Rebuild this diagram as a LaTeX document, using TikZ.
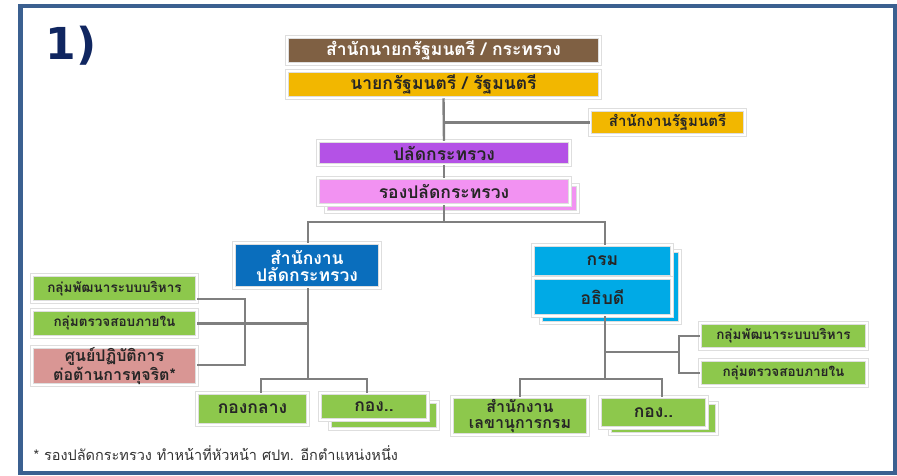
\documentclass[tikz,border=0pt]{standalone}
\usepackage{fontspec}
\newfontfamily\thaifont[Script=Thai]{Loma}
\newfontfamily\numfont{DejaVu Sans}
\usetikzlibrary{positioning,shadows}

\definecolor{frameblue}{HTML}{3B6090}
\definecolor{navy}{HTML}{102660}
\definecolor{linegray}{HTML}{7F7F7F}
\definecolor{pmobrown}{HTML}{7F6043}
\definecolor{pmgold}{HTML}{F2B700}
\definecolor{permpurple}{HTML}{B452E6}
\definecolor{deppink}{HTML}{F292F2}
\definecolor{opsblue}{HTML}{0A6EBD}
\definecolor{deptcyan}{HTML}{00AAE6}
\definecolor{unitgreen}{HTML}{8DC84C}
\definecolor{antired}{HTML}{D99694}
\definecolor{paleyellow}{HTML}{EEF29A}

\begin{document}
\begin{tikzpicture}[x=1pt,y=-1pt,font=\thaifont\bfseries\fontsize{17.5}{17}\selectfont,
  box/.style={draw=black!13,double=white,double distance=2.2pt,line width=0.5pt,
    inner sep=0pt,align=center,text=black!85,
    drop shadow={shadow xshift=1.4pt,shadow yshift=-1.4pt,opacity=0.2},
    path picture={\fill [black,opacity=0.2]
      ([yshift=2.5pt]path picture bounding box.south west) rectangle (path picture bounding box.south east);
      \fill [black,opacity=0.12]
      ([xshift=-2.5pt]path picture bounding box.north east) rectangle (path picture bounding box.south east);}},
  backbox/.style={box},
  staffbox/.style={box,fill=unitgreen,font=\thaifont\bfseries\fontsize{13.5}{14}\selectfont,
    append after command={\pgfextra{\draw [paleyellow,line width=2pt]
      ([xshift=1pt]\tikzlastnode.south west) -- ([xshift=1pt]\tikzlastnode.north west);}}},
  conn/.style={draw=linegray,line width=2.4pt}]

  \useasboundingbox (0,0) rectangle (897,475);
  \draw [frameblue,line width=4.5pt] (20.5,6) rectangle (895,473);
  \node [anchor=west,text=navy,font=\numfont\bfseries\fontsize{44}{48}\selectfont] (num) at (42,46) {1)};

  % top of the chart
  \node [box,fill=pmobrown,text=white,minimum width=313,minimum height=27] (pmo) at (443.5,50.5) {สำนักนายกรัฐมนตรี / กระทรวง};
  \node [box,fill=pmgold,minimum width=313,minimum height=27] (pm) at (443.5,84.5) {นายกรัฐมนตรี / รัฐมนตรี};
  \node [box,fill=pmgold,minimum width=155,minimum height=25,font=\thaifont\bfseries\fontsize{15}{15}\selectfont] (pmoff) at (667.5,122.5) {สำนักงานรัฐมนตรี};
  \node [box,fill=permpurple,minimum width=252,minimum height=24] (perm) at (444,153) {ปลัดกระทรวง};
  \node [backbox,fill=deppink,minimum width=252,minimum height=27] (deputyback) at (452,198.5) {};
  \node [box,fill=deppink,minimum width=252,minimum height=27] (deputy) at (444,191.5) {รองปลัดกระทรวง};

  % left branch
  \node [box,fill=opsblue,text=white,minimum width=146,minimum height=45] (ops) at (307,265.5) {สำนักงาน\\ปลัดกระทรวง};
  \node [staffbox,minimum width=165,minimum height=27] (ldev) at (114.5,288.5) {กลุ่มพัฒนาระบบบริหาร};
  \node [staffbox,minimum width=165,minimum height=27] (laud) at (114.5,323.5) {กลุ่มตรวจสอบภายใน};
  \node [box,fill=antired,minimum width=165,minimum height=38,font=\thaifont\bfseries\fontsize{16}{16}\selectfont] (anti) at (114.5,366) {ศูนย์ปฏิบัติการ\\ต่อต้านการทุจริต*};
  \node [box,fill=unitgreen,minimum width=111,minimum height=32] (kongklang) at (252.5,409) {กองกลาง};
  \node [backbox,fill=unitgreen,minimum width=108,minimum height=27] (kong1back) at (384,415.5) {};
  \node [box,fill=unitgreen,minimum width=108,minimum height=27] (kong1) at (374,406.5) {กอง..};

  % right branch
  \node [backbox,fill=deptcyan,minimum width=139,minimum height=72] (deptback) at (610.5,287) {};
  \node [box,fill=deptcyan,minimum width=139,minimum height=32] (dept) at (602.5,261) {กรม};
  \node [box,fill=deptcyan,minimum width=139,minimum height=38] (chief) at (602.5,297) {อธิบดี};
  \node [staffbox,minimum width=167,minimum height=26] (rdev) at (783.5,336) {กลุ่มพัฒนาระบบบริหาร};
  \node [staffbox,minimum width=167,minimum height=26] (raud) at (783.5,373) {กลุ่มตรวจสอบภายใน};
  \node [box,fill=unitgreen,minimum width=136,minimum height=38,font=\thaifont\bfseries\fontsize{16}{16}\selectfont] (secr) at (520,416) {สำนักงาน\\เลขานุการกรม};
  \node [backbox,fill=unitgreen,minimum width=107,minimum height=31] (kong2back) at (663.5,418.5) {};
  \node [box,fill=unitgreen,minimum width=107,minimum height=31] (kong2) at (653.5,412.5) {กอง..};

  \node [anchor=west,font=\thaifont\fontsize{14.5}{15}\selectfont,text=black!80] (note) at (30,453) {* รองปลัดกระทรวง ทำหน้าที่หัวหน้า ศปท. อีกตำแหน่งหนึ่ง};

  % connectors
  \coordinate (bus1) at (444,222);
  \coordinate (bus2) at (308,379);
  \coordinate (bus3) at (605,379);
  \coordinate (rstaff) at (605,352);
  \draw [conn] (pm.south) -- (perm.north);
  \draw [conn] (pm.south |- pmoff.west) -- (pmoff.west);
  \draw [conn] (perm.south) -- (deputy.north);
  \draw [conn] (deputy.south) -- (bus1);
  \draw [conn] ([xshift=1pt]ops.north) |- (bus1) -| ([xshift=2.5pt]dept.north);
  \draw [conn] ([xshift=1pt]ops.south) -- (bus2);
  \draw [conn] ([xshift=8.5pt]kongklang.north) |- (bus2) -| ([xshift=-7pt]kong1.north);
  \draw [conn] ([yshift=-10.5pt]ldev.east) -- ++(48,0) |- ([yshift=1pt]anti.east);
  \draw [conn] (laud.east) -- (laud.east -| bus2);
  \draw [conn] ([xshift=2.5pt]chief.south) -- (bus3);
  \draw [conn] (secr.north) |- (bus3) -| ([xshift=8.5pt]kong2.north);
  \draw [conn] (rstaff) -- ++(74,0) coordinate (rj);
  \draw [conn] (rdev.west) -| (rj) |- (raud.west);
\end{tikzpicture}
\end{document}
